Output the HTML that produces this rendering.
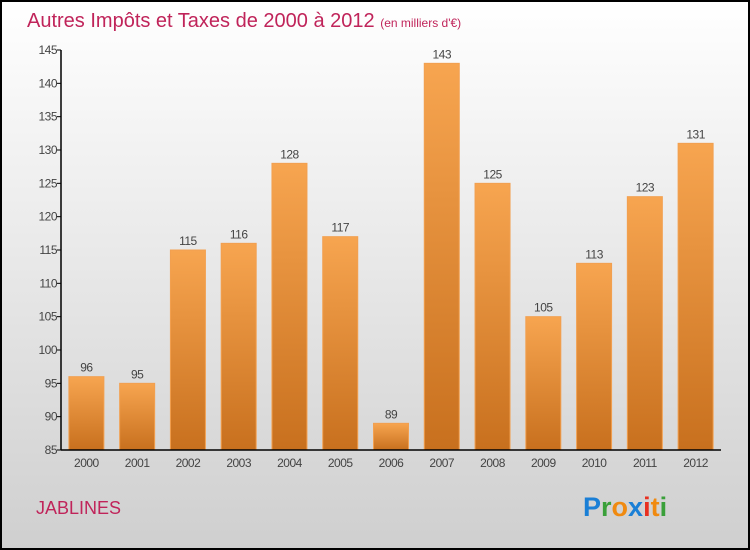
<!DOCTYPE html>
<html><head><meta charset="utf-8"><style>
body{margin:0;width:750px;height:550px;overflow:hidden}
svg{display:block}
text{font-family:"Liberation Sans",sans-serif}
</style></head><body>
<svg id="c" width="750" height="550">
<defs>
<linearGradient id="bg" x1="0" y1="0" x2="0" y2="1"><stop offset="0" stop-color="#ffffff"/><stop offset="1" stop-color="#cfcfcf"/></linearGradient>
<linearGradient id="bar" x1="0" y1="0" x2="0" y2="1"><stop offset="0" stop-color="#f7a550"/><stop offset="1" stop-color="#c8701e"/></linearGradient>
</defs>
<rect x="1" y="1" width="748" height="548" fill="url(#bg)" stroke="#000" stroke-width="2"/>
<text x="27" y="27" font-size="20" fill="#c0245a">Autres Impôts et Taxes de 2000 à 2012 <tspan font-size="12">(en milliers d'€)</tspan></text>
<text x="36" y="514" font-size="18" fill="#c0245a">JABLINES</text>
<g id="plot"></g>
<text x="583" y="516" font-size="27" font-weight="bold"><tspan fill="#1a7fd6">P</tspan><tspan fill="#3aa03a">r</tspan><tspan fill="#f08a10">o</tspan><tspan fill="#1a7fd6">x</tspan><tspan fill="#e83020">i</tspan><tspan fill="#f08a10">t</tspan><tspan fill="#3aa03a">i</tspan></text>
</svg>
<script>
const categories=["2000","2001","2002","2003","2004","2005","2006","2007","2008","2009","2010","2011","2012"];
const values=[96,95,115,116,128,117,89,143,125,105,113,123,131];
const yTicks=[85,90,95,100,105,110,115,120,125,130,135,140,145];
const ns="http://www.w3.org/2000/svg";
const g=document.getElementById('plot');
const L=61,R=721,T=50,B=450,ymin=85,ymax=145;
const y=v=>B-(v-ymin)/(ymax-ymin)*(B-T);
const step=(R-L)/categories.length;
const x=i=>L+step*(i+0.5);
function mk(t,a){const e=document.createElementNS(ns,t);for(const k in a)e.setAttribute(k,a[k]);g.appendChild(e);return e;}
yTicks.forEach(v=>{
 const l=mk('line',{x1:L-4,x2:L,y1:y(v),y2:y(v),stroke:'#000'});
 
 
 const t=mk('text',{x:L-4,y:y(v)+4,'font-size':12,fill:'#444','text-anchor':'end','letter-spacing':'-0.5'});
 t.textContent=v;
 
 
});
categories.forEach((c,i)=>{
 const w=35,cx=x(i);
 const r=mk('rect',{x:cx-w/2,y:y(values[i]),width:w,height:B-y(values[i]),fill:'url(#bar)',stroke:'#f2a050','stroke-width':1});
 
 
 const vt=mk('text',{x:cx,y:y(values[i])-5,'font-size':12,fill:'#444','text-anchor':'middle','letter-spacing':'-0.5'});
 vt.textContent=values[i];
 
 
 const xt=mk('text',{x:cx,y:B+17,'font-size':12,fill:'#444','text-anchor':'middle','letter-spacing':'-0.5'});
 xt.textContent=c;
 
 
});
const ya=mk('line',{x1:L,x2:L,y1:T,y2:B,stroke:'#000','stroke-width':1.5});


const xa=mk('line',{x1:L,x2:R,y1:B,y2:B,stroke:'#000','stroke-width':1.5});


</script>
</body></html>
